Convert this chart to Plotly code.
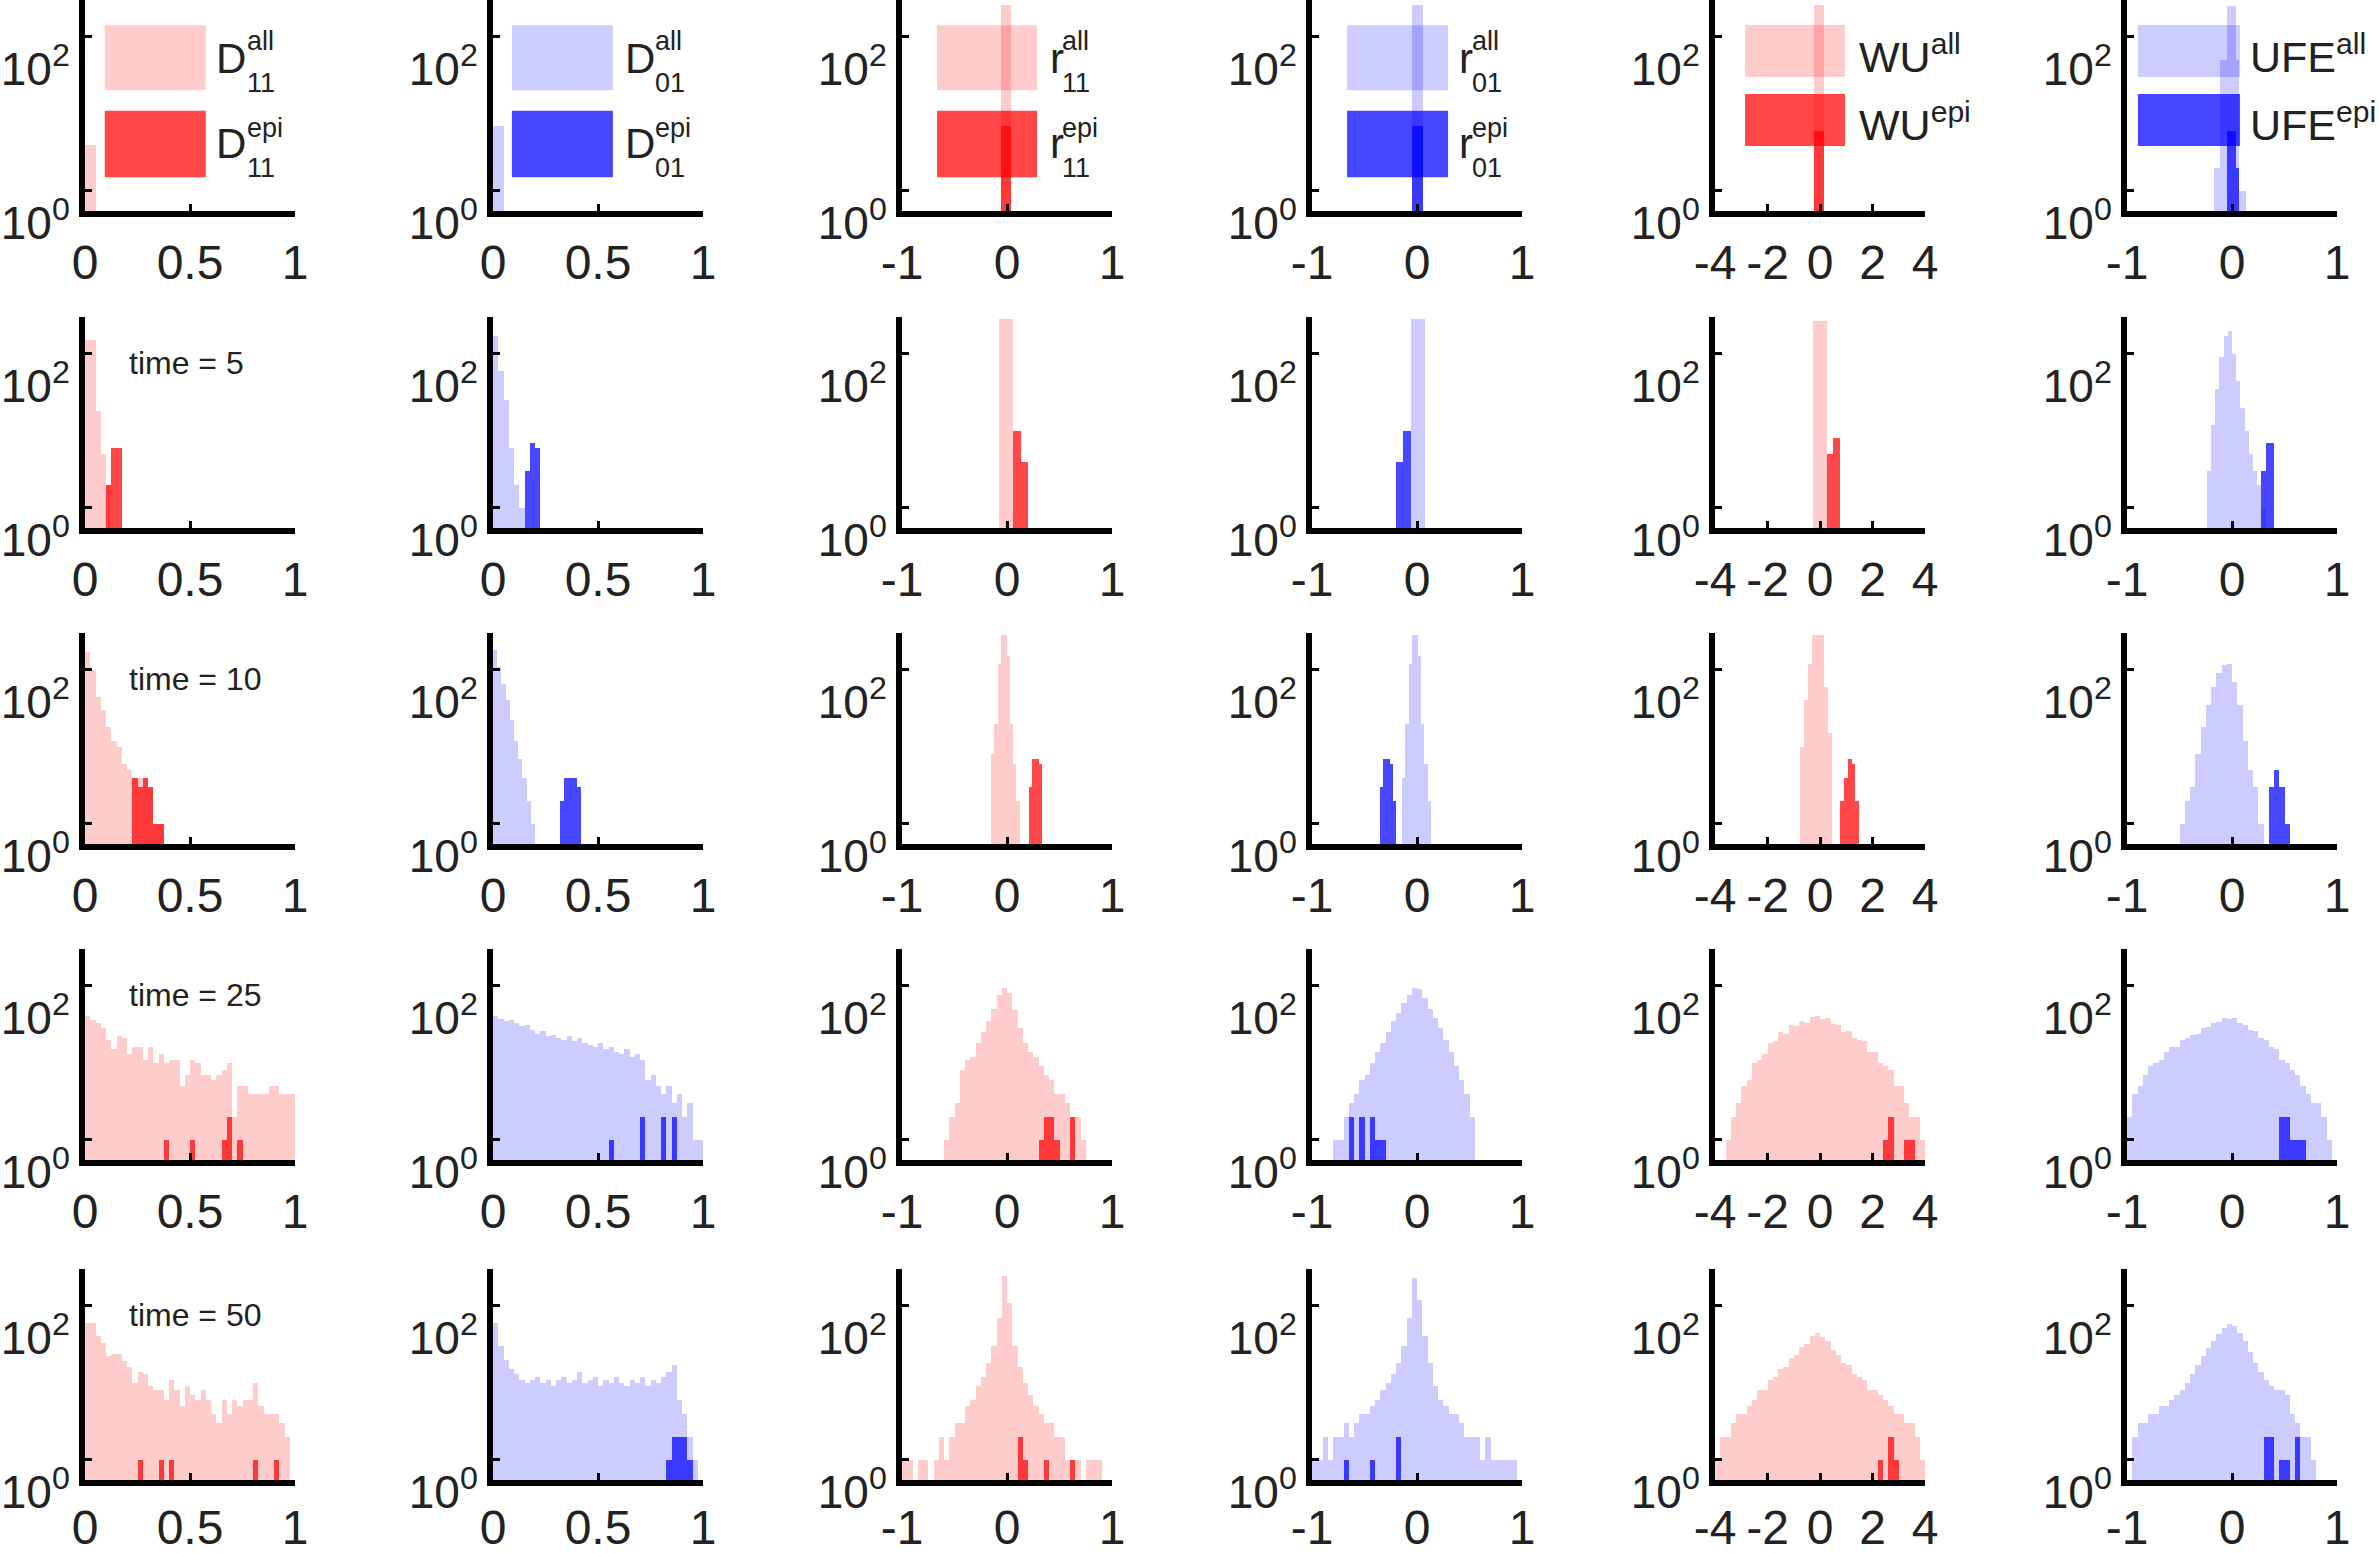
import math
import plotly.graph_objects as go

# ---------------------------------------------------------------------------
# Histogram data: every panel is (first bin edge, bin width) plus two count
# lists on that grid ("all" sites and "epi" sites).
# Rows are time points, columns are the six statistics.
# ---------------------------------------------------------------------------
row_times = [None, 5, 10, 25, 50]

# ---- time = 0 -------------------------------------------------------------
d11_bins_t0 = (0.0, 0.025)
d11_all_t0 = [4, 4]
d11_epi_t0 = [0, 0]
d01_bins_t0 = (0.0, 0.025)
d01_all_t0 = [7, 7]
d01_epi_t0 = [0, 0]
r11_bins_t0 = (-0.06, 0.1)
r11_all_t0 = [260]
r11_epi_t0 = [7]
r01_bins_t0 = (-0.045, 0.1)
r01_all_t0 = [260]
r01_epi_t0 = [7]
wu_bins_t0 = (-0.23, 0.38)
wu_all_t0 = [260]
wu_epi_t0 = [6]
ufe_bins_t0 = (-0.17, 0.03)
ufe_all_t0 = [2, 2, 50, 50, 250, 250, 250, 50, 1, 1]
ufe_epi_t0 = [0, 0, 0, 0, 6, 6, 6, 2, 0, 0]

# ---- time = 5 -------------------------------------------------------------
d11_bins_t5 = (0.0, 0.025)
d11_all_t5 = [150, 150, 18, 5, 2, 0, 0]
d11_epi_t5 = [0, 0, 0, 0, 2, 6, 6]
d01_bins_t5 = (0.0, 0.025)
d01_all_t5 = [170, 60, 25, 6, 2, 1, 0, 0, 0]
d01_epi_t5 = [0, 0, 0, 0, 0, 0, 3, 7, 6]
r11_bins_t5 = (-0.08, 0.07)
r11_all_t5 = [280, 280, 0, 0]
r11_epi_t5 = [0, 0, 10, 4]
r01_bins_t5 = (-0.2, 0.07)
r01_all_t5 = [0, 0, 280, 280]
r01_epi_t5 = [4, 10, 0, 0]
wu_bins_t5 = (-0.25, 0.25)
wu_all_t5 = [270, 270, 0, 0]
wu_epi_t5 = [0, 0, 5, 8]
ufe_bins_t5 = (-0.24, 0.04)
ufe_all_t5 = [3, 12, 35, 90, 170, 200, 100, 45, 20, 10, 5, 3, 2, 1, 0, 0]
ufe_epi_t5 = [0, 0, 0, 0, 0, 0, 0, 0, 0, 0, 0, 0, 0, 3, 7, 7]

# ---- time = 10 ------------------------------------------------------------
d11_bins_t10 = (0.0, 0.025)
d11_all_t10 = [170, 100, 45, 30, 18, 12, 10, 6, 5, 4, 4, 4, 3, 1, 1]
d11_epi_t10 = [0, 0, 0, 0, 0, 0, 0, 0, 0, 4, 3, 4, 3, 1, 1]
d01_bins_t10 = (0.0, 0.02)
d01_all_t10 = [180, 110, 65, 40, 22, 12, 7, 4, 2, 1, 0, 0, 0, 0, 0, 0, 0, 0, 0, 0, 0]
d01_epi_t10 = [0, 0, 0, 0, 0, 0, 0, 0, 0, 0, 0, 0, 0, 0, 0, 0, 2, 4, 4, 4, 3]
r11_bins_t10 = (-0.15, 0.03)
r11_all_t10 = [8, 20, 120, 280, 280, 150, 20, 6, 2, 0, 0, 0, 0, 0, 0, 0]
r11_epi_t10 = [0, 0, 0, 0, 0, 0, 0, 0, 0, 0, 0, 0, 3, 7, 7, 6]
r01_bins_t10 = (-0.35, 0.03)
r01_all_t10 = [0, 0, 0, 0, 0, 0, 0, 4, 20, 120, 280, 280, 150, 20, 6, 2]
r01_epi_t10 = [3, 7, 7, 6, 2, 0, 0, 0, 0, 0, 0, 0, 0, 0, 0, 0]
wu_bins_t10 = (-0.75, 0.15)
wu_all_t10 = [10, 40, 120, 280, 280, 280, 60, 15, 0, 0, 0, 0, 0, 0, 0]
wu_epi_t10 = [0, 0, 0, 0, 0, 0, 0, 0, 0, 0, 2, 4, 7, 6, 2]
ufe_bins_t10 = (-0.5, 0.05)
ufe_all_t10 = [1, 2, 3, 8, 18, 35, 60, 90, 115, 120, 70, 35, 12, 5, 3, 1, 0, 0, 0, 0, 0]
ufe_epi_t10 = [0, 0, 0, 0, 0, 0, 0, 0, 0, 0, 0, 0, 0, 0, 0, 0, 0, 3, 5, 3, 1]

# ---- time = 25 ------------------------------------------------------------
d11_bins_t25 = (0.0, 0.025)
d11_all_t25 = [40, 36, 33, 28, 20, 15, 22, 21, 13, 16, 16, 11, 16, 10, 13, 10, 11, 11, 5, 7,
               11, 10, 7, 7, 6, 7, 8, 10, 2, 5, 5, 4, 4, 4, 4, 5, 5, 4, 4, 4]
d11_epi_t25 = [0, 0, 0, 0, 0, 0, 0, 0, 0, 0, 0, 0, 0, 0, 0, 1, 0, 0, 0, 0,
               1, 0, 0, 0, 0, 0, 1, 2, 0, 1, 0, 0, 0, 0, 0, 0, 0, 0, 0, 0]
d01_bins_t25 = (0.0, 0.025)
d01_all_t25 = [40, 37, 35, 36, 33, 30, 31, 27, 24, 26, 22, 23, 21, 20, 22, 19, 21, 18, 17, 16,
               18, 15, 16, 14, 13, 15, 12, 13, 11, 6, 7, 5, 4, 5, 3, 4, 2, 3, 1, 1]
d01_epi_t25 = [0, 0, 0, 0, 0, 0, 0, 0, 0, 0, 0, 0, 0, 0, 0, 0, 0, 0, 0, 0,
               0, 0, 1, 0, 0, 0, 0, 0, 2, 0, 0, 0, 2, 0, 2, 0, 0, 0, 0, 0]
r11_bins_t25 = (-0.6, 0.05)
r11_all_t25 = [1, 2, 3, 8, 11, 12, 18, 25, 35, 50, 75, 95, 80, 48, 28, 18, 14, 12, 9, 7,
               6, 4, 4, 3, 2, 2, 1]
r11_epi_t25 = [0, 0, 0, 0, 0, 0, 0, 0, 0, 0, 0, 0, 0, 0, 0, 0, 0, 0, 1, 2,
               2, 1, 0, 0, 2, 0, 0]
r01_bins_t25 = (-0.8, 0.05)
r01_all_t25 = [1, 1, 2, 3, 4, 6, 7, 10, 14, 18, 25, 35, 45, 60, 75, 95, 90, 70, 50, 38,
               28, 20, 14, 9, 6, 4, 2]
r01_epi_t25 = [0, 0, 0, 2, 0, 2, 0, 2, 1, 1, 0, 0, 0, 0, 0, 0, 0, 0, 0, 0,
               0, 0, 0, 0, 0, 0, 0]
wu_bins_t25 = (-3.6, 0.2)
wu_all_t25 = [1, 2, 3, 5, 6, 10, 11, 13, 18, 19, 25, 24, 31, 30, 35, 33, 39, 41, 37, 38,
              32, 31, 25, 26, 21, 20, 19, 14, 14, 10, 9, 8, 5, 5, 3, 2, 2, 1]
wu_epi_t25 = [0, 0, 0, 0, 0, 0, 0, 0, 0, 0, 0, 0, 0, 0, 0, 0, 0, 0, 0, 0,
              0, 0, 0, 0, 0, 0, 0, 0, 0, 0, 1, 2, 0, 0, 1, 1, 0, 0]
ufe_bins_t25 = (-1.0, 0.05)
ufe_all_t25 = [2, 4, 5, 7, 9, 10, 11, 14, 16, 16, 20, 21, 23, 24, 28, 29, 33, 34, 38, 37,
               38, 33, 31, 27, 26, 21, 20, 16, 15, 11, 10, 8, 7, 5, 4, 3, 3, 2, 1]
ufe_epi_t25 = [0, 0, 0, 0, 0, 0, 0, 0, 0, 0, 0, 0, 0, 0, 0, 0, 0, 0, 0, 0,
               0, 0, 0, 0, 0, 0, 0, 0, 0, 2, 2, 1, 1, 1, 0, 0, 0, 0, 0]

# ---- time = 50 ------------------------------------------------------------
d11_bins_t50 = (0.0, 0.025)
d11_all_t50 = [60, 60, 40, 33, 22, 24, 24, 19, 16, 10, 14, 13, 9, 8, 8, 6, 11, 8, 5, 9,
               7, 6, 8, 6, 4, 3, 6, 4, 6, 5, 6, 6, 10, 5, 4, 4, 4, 3, 2, 0]
d11_epi_t50 = [0, 0, 0, 0, 0, 0, 0, 0, 0, 0, 1, 0, 0, 0, 1, 0, 1, 0, 0, 0,
               0, 0, 0, 0, 0, 0, 0, 0, 0, 0, 0, 0, 1, 0, 0, 0, 1, 0, 0, 0]
d01_bins_t50 = (0.0, 0.025)
d01_all_t50 = [60, 30, 20, 15, 13, 11, 10, 11, 12, 10, 11, 9, 11, 12, 10, 11, 14, 10, 11, 12,
               9, 11, 10, 12, 10, 9, 11, 10, 12, 9, 11, 10, 12, 14, 17, 6, 4, 2, 1, 0]
d01_epi_t50 = [0, 0, 0, 0, 0, 0, 0, 0, 0, 0, 0, 0, 0, 0, 0, 0, 0, 0, 0, 0,
               0, 0, 0, 0, 0, 0, 0, 0, 0, 0, 0, 0, 0, 1, 2, 2, 2, 1, 0, 0]
r11_bins_t50 = (-1.0, 0.05)
r11_all_t50 = [1, 1, 0, 1, 1, 0, 1, 2, 1, 2, 3, 3, 5, 6, 9, 12, 18, 30, 70, 240,
               110, 30, 16, 10, 7, 5, 4, 3, 3, 2, 2, 1, 1, 1, 0, 1, 1, 1, 0, 0]
r11_epi_t50 = [0, 0, 0, 0, 0, 0, 0, 0, 0, 0, 0, 0, 0, 0, 0, 0, 0, 0, 0, 0,
               0, 0, 2, 1, 0, 0, 0, 1, 0, 0, 0, 0, 1, 0, 0, 0, 0, 0, 0, 0]
r01_bins_t50 = (-1.0, 0.05)
r01_all_t50 = [1, 1, 2, 1, 2, 2, 3, 2, 3, 4, 4, 5, 6, 8, 10, 13, 18, 30, 70, 230,
               120, 40, 18, 9, 6, 5, 4, 4, 3, 2, 2, 2, 1, 2, 1, 1, 1, 1, 1, 0]
r01_epi_t50 = [0, 0, 0, 0, 0, 0, 1, 0, 0, 0, 0, 1, 0, 0, 0, 0, 2, 0, 0, 0,
               0, 0, 0, 0, 0, 0, 0, 0, 0, 0, 0, 0, 0, 0, 0, 0, 0, 0, 0, 0]
wu_bins_t50 = (-4.0, 0.2)
wu_all_t50 = [1, 2, 2, 3, 4, 4, 5, 6, 8, 8, 11, 12, 15, 16, 21, 23, 29, 32, 41, 44,
              39, 35, 27, 23, 18, 17, 13, 12, 11, 8, 8, 7, 6, 5, 4, 4, 3, 3, 2, 1]
wu_epi_t50 = [0, 0, 0, 0, 0, 0, 0, 0, 0, 0, 0, 0, 0, 0, 0, 0, 0, 0, 0, 0,
              0, 0, 0, 0, 0, 0, 0, 0, 0, 0, 0, 1, 0, 2, 1, 0, 0, 0, 0, 0]
ufe_bins_t50 = (-1.0, 0.05)
ufe_all_t50 = [0, 2, 3, 3, 4, 4, 5, 5, 6, 7, 8, 10, 13, 17, 22, 28, 35, 43, 52, 58,
               55, 45, 35, 25, 18, 14, 11, 9, 8, 8, 7, 4, 3, 2, 2, 1, 0, 0, 0, 0]
ufe_epi_t50 = [0, 0, 0, 0, 0, 0, 0, 0, 0, 0, 0, 0, 0, 0, 0, 0, 0, 0, 0, 0,
               0, 0, 0, 0, 0, 0, 2, 2, 0, 1, 1, 0, 2, 0, 0, 0, 0, 0, 0, 0]

# x-axis limits and tick labels per statistic
x_ranges = [(0, 1), (0, 1), (-1, 1), (-1, 1), (-4, 4), (-1, 1)]
x_tickvals = [[0, 0.5, 1], [0, 0.5, 1], [-1, 0, 1], [-1, 0, 1], [-4, -2, 0, 2, 4], [-1, 0, 1]]
x_ticktext = [["0", "0.5", "1"], ["0", "0.5", "1"], ["-1", "0", "1"], ["-1", "0", "1"],
              ["-4", "-2", "0", "2", "4"], ["-1", "0", "1"]]

panel_grid = [
    [(d11_bins_t0, d11_all_t0, d11_epi_t0), (d01_bins_t0, d01_all_t0, d01_epi_t0),
     (r11_bins_t0, r11_all_t0, r11_epi_t0), (r01_bins_t0, r01_all_t0, r01_epi_t0),
     (wu_bins_t0, wu_all_t0, wu_epi_t0), (ufe_bins_t0, ufe_all_t0, ufe_epi_t0)],
    [(d11_bins_t5, d11_all_t5, d11_epi_t5), (d01_bins_t5, d01_all_t5, d01_epi_t5),
     (r11_bins_t5, r11_all_t5, r11_epi_t5), (r01_bins_t5, r01_all_t5, r01_epi_t5),
     (wu_bins_t5, wu_all_t5, wu_epi_t5), (ufe_bins_t5, ufe_all_t5, ufe_epi_t5)],
    [(d11_bins_t10, d11_all_t10, d11_epi_t10), (d01_bins_t10, d01_all_t10, d01_epi_t10),
     (r11_bins_t10, r11_all_t10, r11_epi_t10), (r01_bins_t10, r01_all_t10, r01_epi_t10),
     (wu_bins_t10, wu_all_t10, wu_epi_t10), (ufe_bins_t10, ufe_all_t10, ufe_epi_t10)],
    [(d11_bins_t25, d11_all_t25, d11_epi_t25), (d01_bins_t25, d01_all_t25, d01_epi_t25),
     (r11_bins_t25, r11_all_t25, r11_epi_t25), (r01_bins_t25, r01_all_t25, r01_epi_t25),
     (wu_bins_t25, wu_all_t25, wu_epi_t25), (ufe_bins_t25, ufe_all_t25, ufe_epi_t25)],
    [(d11_bins_t50, d11_all_t50, d11_epi_t50), (d01_bins_t50, d01_all_t50, d01_epi_t50),
     (r11_bins_t50, r11_all_t50, r11_epi_t50), (r01_bins_t50, r01_all_t50, r01_epi_t50),
     (wu_bins_t50, wu_all_t50, wu_epi_t50), (ufe_bins_t50, ufe_all_t50, ufe_epi_t50)],
]

# ---------------------------------------------------------------------------
# Styling
# ---------------------------------------------------------------------------
W, H = 2379, 1553
FONT = "Liberation Sans, Arial, Helvetica, sans-serif"
INK = "#222222"
RED_ALL, RED_EPI = "rgba(255,0,0,0.2)", "rgba(255,0,0,0.72)"
BLUE_ALL, BLUE_EPI = "rgba(0,0,255,0.2)", "rgba(0,0,255,0.72)"
col_colors = [(RED_ALL, RED_EPI), (BLUE_ALL, BLUE_EPI)] * 3

col_left_px = [85, 493, 902, 1312, 1715, 2127]
axis_w_px = 210
row_base_px = [211, 528, 844, 1160, 1480]
axis_h_px = 211

Y_LO, Y_HI = 0.55, 300.0
X_TICK_SIZE = 48
Y_TICK_SIZE = 46

fig = go.Figure()
layout = {}

for r in range(5):
    for c in range(6):
        k = r * 6 + c + 1
        xa = "x" if k == 1 else f"x{k}"
        ya = "y" if k == 1 else f"y{k}"
        (start, width), all_counts, epi_counts = panel_grid[r][c]
        col_all, col_epi = col_colors[c]
        for counts, color in ((all_counts, col_all), (epi_counts, col_epi)):
            xs = [start + width * (i + 0.5) for i, v in enumerate(counts) if v > 0]
            ys = [v for v in counts if v > 0]
            if not ys:
                continue
            fig.add_trace(go.Bar(
                x=xs, y=ys, width=[width] * len(xs), xaxis=xa, yaxis=ya,
                marker=dict(color=color, line=dict(width=0)),
                showlegend=False, hoverinfo="skip"))

        x0 = col_left_px[c] / W
        x1 = (col_left_px[c] + axis_w_px) / W
        y0 = 1 - row_base_px[r] / H
        y1 = 1 - (row_base_px[r] - axis_h_px) / H
        layout["xaxis" if k == 1 else f"xaxis{k}"] = dict(
            domain=[x0, x1], anchor=ya, range=list(x_ranges[c]), automargin=False,
            tickvals=x_tickvals[c], ticktext=x_ticktext[c],
            ticks="inside", ticklen=7, tickwidth=3, tickcolor="black",
            showline=True, linecolor="black", linewidth=6,
            showgrid=False, zeroline=False, fixedrange=True,
            ticklabeloverflow="allow", ticklabelstandoff=0 if r == 4 else 4,
            tickfont=dict(family=FONT, size=X_TICK_SIZE, color=INK))
        layout["yaxis" if k == 1 else f"yaxis{k}"] = dict(
            domain=[y0, y1], anchor=xa, type="log", automargin=False,
            range=[math.log10(Y_LO), math.log10(Y_HI)],
            tickvals=[1, 100], ticktext=["10<sup>0</sup>", "10<sup>2</sup>"],
            ticks="inside", ticklen=7, tickwidth=3, tickcolor="black",
            showline=True, linecolor="black", linewidth=6,
            showgrid=False, zeroline=False, fixedrange=True,
            ticklabelshift=32, ticklabeloverflow="allow",
            tickfont=dict(family=FONT, size=Y_TICK_SIZE, color=INK))

# ---------------------------------------------------------------------------
# Legend blocks (colour swatches + labels) in the first row
# ---------------------------------------------------------------------------
shapes = []
annotations = []

stacked = [("D", "11", 0.094, 0.575, 0.612, 0.762),
           ("D", "01", 0.090, 0.571, 0.619, 0.762),
           ("r", "11", 0.167, 0.643, 0.695, 0.752),
           ("r", "01", 0.167, 0.648, 0.690, 0.752)]
for c, (main, sub, bx0, bx1, tx, sx) in enumerate(stacked):
    k = c + 1
    xr = "x domain" if k == 1 else f"x{k} domain"
    yr = "y domain" if k == 1 else f"y{k} domain"
    col_all, col_epi = col_colors[c]
    for (by0, by1, color, sup, ym, ysup, ysub) in (
            (0.572, 0.880, col_all, "all", 0.725, 0.806, 0.607),
            (0.160, 0.475, col_epi, "epi", 0.322, 0.393, 0.204)):
        shapes.append(dict(type="rect", xref=xr, yref=yr, x0=bx0, x1=bx1, y0=by0, y1=by1,
                           fillcolor=color, line=dict(width=0), layer="below"))
        annotations.append(dict(xref=xr, yref=yr, x=tx, y=ym, text=main, showarrow=False,
                                xanchor="left", yanchor="middle",
                                font=dict(family=FONT, size=42, color=INK)))
        annotations.append(dict(xref=xr, yref=yr, x=sx, y=ysup, text=sup, showarrow=False,
                                xanchor="left", yanchor="middle",
                                font=dict(family=FONT, size=27, color=INK)))
        annotations.append(dict(xref=xr, yref=yr, x=sx, y=ysub, text=sub, showarrow=False,
                                xanchor="left", yanchor="middle",
                                font=dict(family=FONT, size=27, color=INK)))

inline = [("WU", 4, 0.143, 0.619, 0.676), ("UFE", 5, 0.052, 0.538, 0.576)]
for main, c, bx0, bx1, tx in inline:
    k = c + 1
    xr, yr = f"x{k} domain", f"y{k} domain"
    col_all, col_epi = col_colors[c]
    for (by0, by1, color, sup, ym) in (
            (0.635, 0.882, col_all, "all", 0.745),
            (0.308, 0.555, col_epi, "epi", 0.42)):
        shapes.append(dict(type="rect", xref=xr, yref=yr, x0=bx0, x1=bx1, y0=by0, y1=by1,
                           fillcolor=color, line=dict(width=0), layer="below"))
        annotations.append(dict(xref=xr, yref=yr, x=tx, y=ym,
                                text=f"{main}<sup>{sup}</sup>", showarrow=False,
                                xanchor="left", yanchor="middle",
                                font=dict(family=FONT, size=43, color=INK)))

# time labels in the first column
for r, t in enumerate(row_times):
    if t is None:
        continue
    k = r * 6 + 1
    annotations.append(dict(xref=f"x{k} domain", yref=f"y{k} domain", x=0.2, y=0.78,
                            text=f"time = {t}", showarrow=False,
                            xanchor="left", yanchor="middle",
                            font=dict(family=FONT, size=32, color=INK)))

fig.update_layout(
    width=W, height=H, margin=dict(l=0, r=0, t=0, b=0, autoexpand=False),
    paper_bgcolor="white", plot_bgcolor="white",
    barmode="overlay", bargap=0, showlegend=False,
    shapes=shapes, annotations=annotations, **layout)

fig.write_html("out.html", config={"displayModeBar": False})
